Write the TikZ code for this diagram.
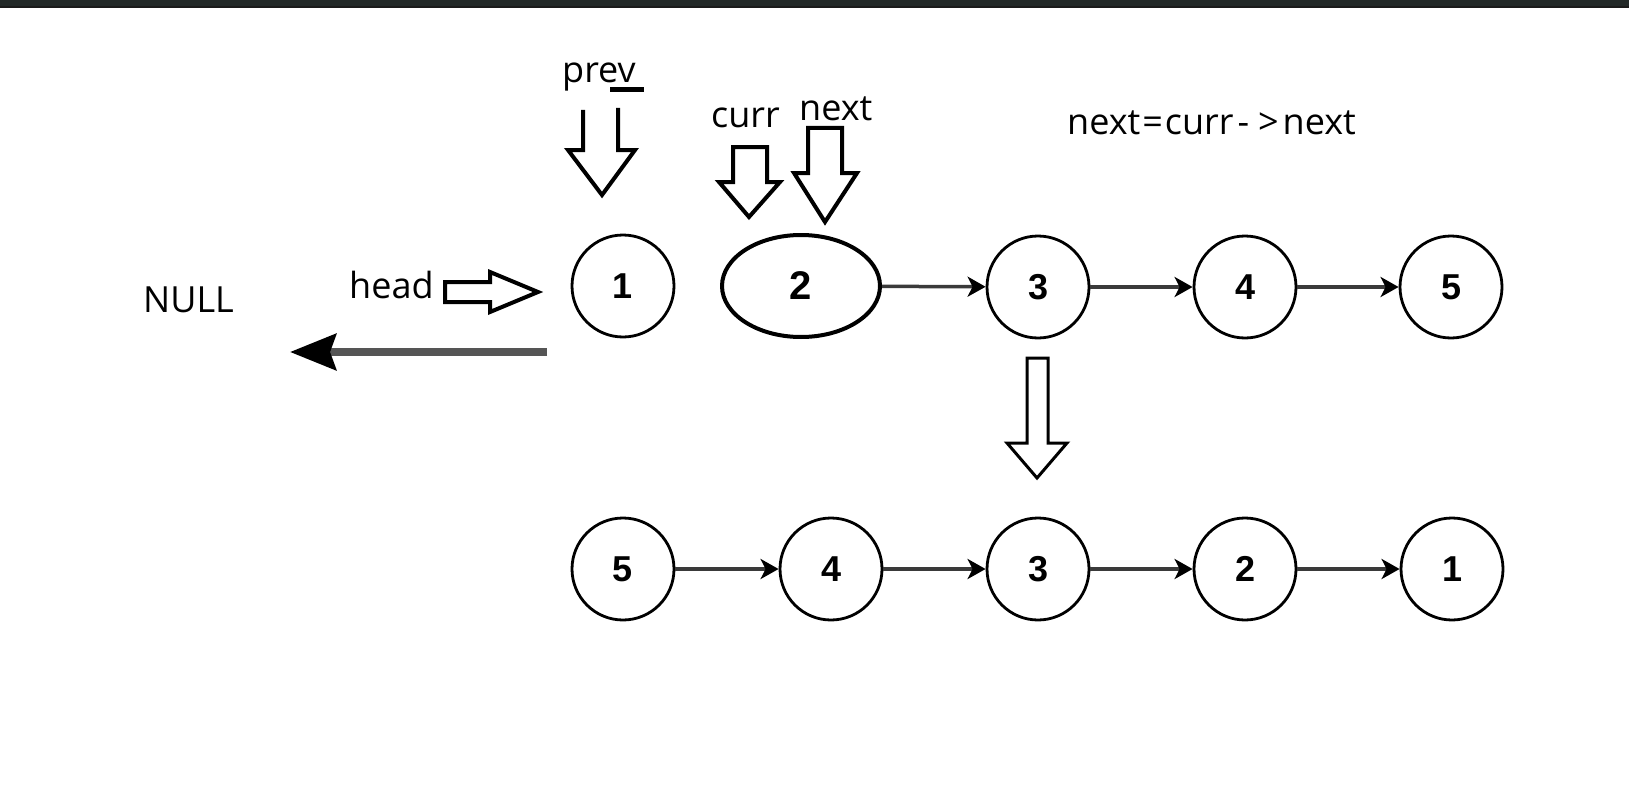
\documentclass[tikz,border=0pt]{standalone}
\usepackage{fontspec}
\setmainfont{Open Sans}
\newfontfamily\digitfont{Liberation Sans}
\usetikzlibrary{arrows.meta,shapes.geometric}
\definecolor{barA}{HTML}{232928}
\definecolor{barB}{HTML}{1B1B1B}
\definecolor{linkgray}{HTML}{3A3A3A}
\definecolor{nullgray}{HTML}{555555}
\begin{document}
\begin{tikzpicture}[x=1pt,y=-1pt,
  lbl/.style={anchor=base west,inner sep=0pt,font=\fontsize{36}{40}\selectfont},
  listnode/.style={circle,draw=black,line width=2.8pt,minimum size=102pt,inner sep=0pt,
    font=\digitfont\bfseries\fontsize{36}{40}\selectfont},
  link/.style={line width=3.5pt,draw=linkgray,-{Stealth[length=18pt,width=20pt,inset=5pt,black]}},
  blockarrow/.style={draw=black,line width=4pt,line join=miter},
]
\useasboundingbox (0,0) rectangle (1629,789);
\fill[white] (0,0) rectangle (1629,789);
\fill[barA] (0,0) rectangle (1629,6);
\fill[barB] (0,6) rectangle (1629,8);

% top row
\node[listnode] (t1) at (623,286) {1};
\node[ellipse,draw=black,line width=4pt,minimum width=158pt,minimum height=102pt,inner sep=0pt,
  font=\digitfont\bfseries\fontsize{40}{44}\selectfont] (t2) at (801,286) {2};
\node[listnode] (t3) at (1038,287) {3};
\node[listnode] (t4) at (1245,287) {4};
\node[listnode] (t5) at (1451,287) {5};
\draw[link] (t2) -- (t3);
\draw[link] (t3) -- (t4);
\draw[link] (t4) -- (t5);

% bottom row
\node[listnode] (b5) at (623,569) {5};
\node[listnode] (b4) at (831,569) {4};
\node[listnode] (b3) at (1038,569) {3};
\node[listnode] (b2) at (1245,569) {2};
\node[listnode] (b1) at (1452,569) {1};
\draw[link] (b5) -- (b4);
\draw[link] (b4) -- (b3);
\draw[link] (b3) -- (b2);
\draw[link] (b2) -- (b1);

% labels
\node[lbl] (prev) at (562,83) {prev};
\node[lbl] (curr) at (711,128) {curr};
\node[lbl] (nexttxt) at (799,121) {next};
\node[lbl] (null) at (143,312) {NULL};
\node[lbl] (head) at (349,298) {head};
\node[lbl] (formula) at (1067,135) {next\kern2pt=\kern2pt curr\kern4pt-\kern9pt>\kern4pt next};

% underline bar under prev
\draw[line width=5pt] (610,90) -- (644,90);

% block arrows
\draw[blockarrow] (583,110) -- (583,150) -- (568,150) -- (602,195) -- (635,150) -- (618,150) -- (618,108);
\draw[blockarrow] (733,147) -- (767,147) -- (767,182) -- (780,182) -- (749,217) -- (719,182) -- (733,182) -- cycle;
\draw[blockarrow] (808,128) -- (842,128) -- (842,173) -- (857,173) -- (825,222) -- (794,173) -- (808,173) -- cycle;
\draw[blockarrow] (445,282) -- (490,282) -- (490,272) -- (538,292) -- (490,312) -- (490,302) -- (445,302) -- cycle;
\draw[draw=black,line width=3pt,line join=miter] (1027,358) -- (1048,358) -- (1048,443) -- (1067,443) -- (1037,478) -- (1007,443) -- (1027,443) -- cycle;

% arrow towards NULL
\coordinate (nullstart) at (547,352);
\coordinate (nullend) at (290,352);
\draw[nullgray,line width=8pt,-{Stealth[length=46pt,width=36pt,inset=6pt,black]}] (nullstart) -- (nullend);
\end{tikzpicture}
\end{document}
